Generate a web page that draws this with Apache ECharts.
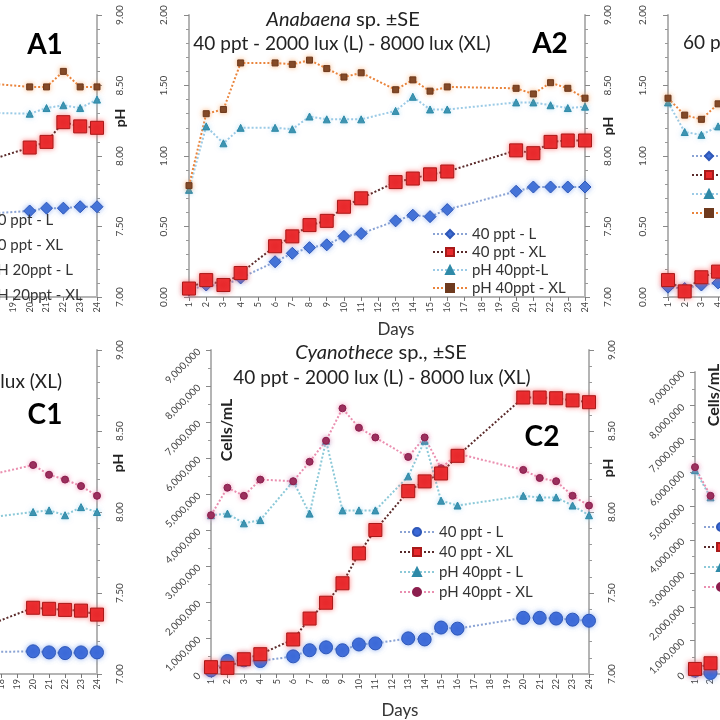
<!DOCTYPE html>
<html>
<head>
<meta charset="utf-8">
<script src="https://cdn.jsdelivr.net/npm/echarts@6/dist/echarts.min.js"></script>
<style>
html,body{margin:0;padding:0;width:720px;height:720px;overflow:hidden;background:#fff}
#chart{position:absolute;left:-320px;top:0;width:1400px;height:720px}
</style>
</head>
<body>
<div id="chart"></div>
<script>
// days on every x axis
var days = ['1','2','3','4','5','6','7','8','9','10','11','12','13','14','15','16','17','18','19','20','21','22','23','24'];

// Anabaena, 20 ppt (A1) - only the right end shows
var a1L    = [null,null,null,null,null,null,null,null,null,null,null,null,null,null,null,0.58,null,null,null,0.61,0.63,0.63,0.64,0.64];
var a1XL   = [null,null,null,null,null,null,null,null,null,null,null,null,null,null,null,0.91,null,null,null,1.06,1.10,1.24,1.21,1.20];
var a1pHL  = [null,null,null,null,null,null,null,null,null,null,null,null,null,null,null,8.31,null,null,null,8.30,8.34,8.36,8.34,8.40];
var a1pHXL = [null,null,null,null,null,null,null,null,null,null,null,null,null,null,null,8.53,null,null,null,8.49,8.49,8.60,8.49,8.49];

// Anabaena, 40 ppt (A2)
var a2L    = [0.05,0.085,0.08,0.135,null,0.25,0.31,0.35,0.37,0.43,0.45,null,0.54,0.58,0.57,0.62,null,null,null,0.75,0.78,0.78,0.78,0.78];
var a2XL   = [0.06,0.12,0.085,0.17,null,0.36,0.43,0.51,0.54,0.64,0.70,null,0.815,0.84,0.87,0.89,null,null,null,1.04,1.02,1.10,1.11,1.11];
var a2pHL  = [7.76,8.21,8.09,8.20,null,8.20,8.19,8.28,8.26,8.26,8.26,null,8.32,8.42,8.33,8.33,null,null,null,8.38,8.38,8.36,8.34,8.35];
var a2pHXL = [7.79,8.30,8.33,8.66,null,8.66,8.65,8.68,8.62,8.56,8.59,null,8.47,8.54,8.46,8.49,null,null,null,8.48,8.44,8.52,8.48,8.41];

// Anabaena, 60 ppt (A3) - only the first days show
var a3L    = [0.07,0.06,0.085,0.10,null,null,null,null,null,null,null,null,null,null,null,null,null,null,null,null,null,null,null,null];
var a3XL   = [0.12,0.04,0.14,0.18,null,null,null,null,null,null,null,null,null,null,null,null,null,null,null,null,null,null,null,null];
var a3pHL  = [8.38,8.17,8.15,8.21,null,null,null,null,null,null,null,null,null,null,null,null,null,null,null,null,null,null,null,null];
var a3pHXL = [8.41,8.29,8.26,8.37,null,null,null,null,null,null,null,null,null,null,null,null,null,null,null,null,null,null,null,null];

// Cyanothece, 20 ppt (C1)
var c1L    = [null,null,null,null,null,null,null,null,null,null,null,null,null,null,null,600000,null,null,null,630000,600000,580000,600000,600000];
var c1XL   = [null,null,null,null,null,null,null,null,null,null,null,null,null,null,null,1150000,null,null,null,1840000,1810000,1780000,1760000,1650000];
var c1pHL  = [null,null,null,null,null,null,null,null,null,null,null,null,null,null,null,7.95,null,null,null,8.00,8.01,7.98,8.03,8.00];
var c1pHXL = [null,null,null,null,null,null,null,null,null,null,null,null,null,null,null,8.20,null,null,null,8.29,8.23,8.20,8.16,8.10];

// Cyanothece, 40 ppt (C2)
var c2L    = [100000,360000,380000,360000,null,490000,660000,740000,660000,820000,850000,null,990000,960000,1290000,1260000,null,null,null,1560000,1560000,1540000,1510000,1480000];
var c2XL   = [190000,170000,410000,550000,null,960000,1540000,1980000,2520000,3350000,4000000,null,5080000,5350000,5570000,6060000,null,null,null,7680000,7680000,7660000,7600000,7550000];
var c2pHL  = [7.98,7.99,7.93,7.95,null,8.19,7.99,8.44,8.01,8.01,8.01,null,8.22,8.44,8.07,8.04,null,null,null,8.10,8.09,8.09,8.04,7.98];
var c2pHXL = [7.98,8.15,8.10,8.20,null,8.19,8.31,8.44,8.64,8.52,8.46,null,8.34,8.46,8.27,8.36,null,null,null,8.26,8.21,8.19,8.10,8.04];

// Cyanothece, 60 ppt (C3)
var c3L    = [100000,30000,null,null,null,null,null,null,null,null,null,null,null,null,null,null,null,null,null,null,null,null,null,null];
var c3XL   = [150000,320000,null,null,null,null,null,null,null,null,null,null,null,null,null,null,null,null,null,null,null,null,null,null];
var c3pHL  = [8.35,8.17,null,null,null,null,null,null,null,null,null,null,null,null,null,null,null,null,null,null,null,null,null,null];
var c3pHXL = [8.37,8.18,null,null,null,null,null,null,null,null,null,null,null,null,null,null,null,null,null,null,null,null,null,null];

var OFF = 320;   // the canvas is wider than the window, shifted left
var FONT = 'Lato';

var panels = [
    {id:'A1', kind:'A', left:-299, top:15, width:396, height:282, data:[a1L,a1XL,a1pHL,a1pHXL],
     labels:['20 ppt - L','20 ppt - XL','pH 20ppt - L','pH 20ppt - XL'], legend:{left:-56, top:207, gap:9}},
    {id:'A2', kind:'A', left:189, top:15, width:396, height:282, data:[a2L,a2XL,a2pHL,a2pHXL],
     labels:['40 ppt - L','40 ppt - XL','pH 40ppt-L','pH 40ppt - XL'], legend:{left:427, top:221, gap:2}},
    {id:'A3', kind:'A', left:668, top:15, width:396, height:282, data:[a3L,a3XL,a3pHL,a3pHXL],
     labels:['60 ppt - L','60 ppt - XL','pH 60ppt - L','pH 60ppt - XL'], legend:{left:686, top:143, gap:3}},
    {id:'C1', kind:'C', left:-281, top:350, width:378, height:328, data:[c1L,c1XL,c1pHL,c1pHXL],
     labels:null},
    {id:'C2', kind:'C', left:211, top:350, width:378, height:328, data:[c2L,c2XL,c2pHL,c2pHXL],
     labels:['40 ppt - L','40 ppt - XL','pH 40ppt - L','pH 40ppt - XL'], legend:{left:394, top:519, gap:4}},
    {id:'C3', kind:'C', left:695, top:372, width:378, height:306, data:[c3L,c3XL,c3pHL,c3pHXL],
     labels:['60 ppt - L','60 ppt - XL','pH 60ppt - L','pH 60ppt - XL'], legend:{left:698, top:514, gap:4}}
];

var styles = {
    A: [
        {sym:'diamond', size:12, color:'#3f6fd6', border:'#2f58b8', line:'#8aa3d4', glow:'rgba(120,160,240,0.7)'},
        {sym:'rect', size:13, color:'#e8292c', border:'#a81a1a', line:'#5a2a2a', glow:'rgba(255,90,90,0.7)'},
        {sym:'triangle', size:7, color:'#2f8aa8', border:'#2f8aa8', line:'#9ccbe6', glow:'rgba(150,210,240,0.6)'},
        {sym:'rect', size:6, color:'#6e3a1e', border:'#6e3a1e', line:'#e9843c', glow:'rgba(250,160,90,0.7)'}
    ],
    C: [
        {sym:'circle', size:13, color:'#3b69d8', border:'#2f58b8', line:'#8aa3d4', glow:'rgba(120,160,240,0.7)'},
        {sym:'rect', size:13, color:'#e8292c', border:'#a81a1a', line:'#5a2a2a', glow:'rgba(255,90,90,0.7)'},
        {sym:'triangle', size:7, color:'#2f8aa8', border:'#2f8aa8', line:'#8cc9d8', glow:'rgba(150,210,240,0.6)'},
        {sym:'circle', size:7, color:'#8c1f4e', border:'#8c1f4e', line:'#ea8fb0', glow:'rgba(240,140,180,0.8)'}
    ]
};

var axisGray = '#b4b4b4';
var grids = [], xAxes = [], yAxes = [], series = [], legends = [];

panels.forEach(function (p, i) {
    grids.push({left:p.left + OFF, top:p.top, width:p.width, height:p.height, containLabel:false});
    xAxes.push({
        type:'category', gridIndex:i, data:days, boundaryGap:false,
        name:'Days', nameLocation:'middle', nameGap:p.kind === 'A' ? 24 : 28,
        nameTextStyle:{fontSize:17, color:'#333', fontFamily:FONT, padding:p.kind === 'A' ? [0,0,0,18] : 0},
        axisLine:{lineStyle:{color:axisGray, width:2}},
        axisTick:{show:true, length:4, interval:0, lineStyle:{color:'#777'}},
        axisLabel:{rotate:90, fontSize:9, color:'#444', interval:0, margin:5, fontFamily:FONT},
        splitLine:{show:false}
    });
    var leftAxis = {
        type:'value', gridIndex:i, position:'left',
        axisLine:{show:true, lineStyle:{color:axisGray, width:2}},
        axisTick:{show:true, length:5, lineStyle:{color:'#888'}},
        minorTick:{show:true, length:3, lineStyle:{color:'#999'}},
        splitLine:{show:false},
        axisLabel:{fontSize:10, color:'#444', fontFamily:FONT}
    };
    if (p.kind === 'A') {
        leftAxis.min = 0; leftAxis.max = 2; leftAxis.interval = 0.5;
        leftAxis.minorTick.splitNumber = 5;
        leftAxis.axisLabel.rotate = 90;
        leftAxis.axisLabel.margin = 20;
        leftAxis.axisLabel.formatter = function (v) { return v.toFixed(2); };
    } else {
        leftAxis.min = 0; leftAxis.max = 9000000; leftAxis.interval = 1000000;
        leftAxis.minorTick.splitNumber = 2;
        leftAxis.axisLabel.rotate = 45;
        leftAxis.axisLabel.margin = 12;
        leftAxis.axisLabel.formatter = function (v) { return v.toLocaleString('en-US'); };
    }
    yAxes.push(leftAxis);
    yAxes.push({
        type:'value', gridIndex:i, position:'right', min:7, max:9, interval:0.5,
        axisLine:{show:true, lineStyle:{color:axisGray, width:2}},
        axisTick:{show:true, length:5, lineStyle:{color:'#888'}},
        minorTick:{show:true, splitNumber:5, length:3, lineStyle:{color:'#999'}},
        splitLine:{show:false},
        axisLabel:{rotate:90, fontSize:10, color:'#444', margin:18, fontFamily:FONT,
            formatter:function (v) { return v.toFixed(2); }}
    });
    var names = [];
    p.data.forEach(function (d, k) {
        var st = styles[p.kind][k];
        var nm = p.id + '|' + (p.labels ? p.labels[k] : 'series ' + k);
        names.push(nm);
        series.push({
            type:'line', name:nm, data:d,
            xAxisIndex:i, yAxisIndex:2 * i + (k < 2 ? 0 : 1),
            connectNulls:true, showAllSymbol:true,
            symbol:st.sym, symbolSize:st.size,
            itemStyle:{color:st.color, borderColor:st.border, borderWidth:1, shadowBlur:5, shadowColor:st.glow},
            lineStyle:{color:st.line, width:2, type:'dotted'},
            z:k < 2 ? 3 : 2,
            emphasis:{disabled:true}
        });
    });
    if (p.labels) {
        legends.push({
            data:names, orient:'vertical', left:p.legend.left + OFF, top:p.legend.top,
            itemWidth:34, itemHeight:10, itemGap:p.legend.gap,
            textStyle:{fontSize:15, lineHeight:16, color:'#333', fontFamily:FONT},
            formatter:function (n) { return n.split('|')[1]; },
            selectedMode:false
        });
    }
});

function label(txt, x, y, opt) {
    opt = opt || {};
    return {
        type:'text', x:x + OFF, y:y, rotation:opt.rot || 0, silent:true,
        style:{
            text:txt, fill:opt.color || '#222',
            font:(opt.weight || 'normal') + ' ' + (opt.size || 16) + 'px ' + FONT,
            textAlign:opt.align || 'center', textVerticalAlign:'middle',
            rich:{i:{fontStyle:'italic', fontSize:opt.size || 16, fontFamily:FONT, fill:'#222'}}
        }
    };
}

var graphics = [
    label('{i|Anabaena} sp. ±SE', 343, 20, {size:20}),
    label('40 ppt - 2000 lux (L) - 8000 lux (XL)', 342, 44, {size:19}),
    label('A2', 550, 44, {size:28, weight:'bold', color:'#000'}),
    label('A1', 45, 45, {size:28, weight:'bold', color:'#000'}),
    label('60 ppt - 2000 lux (L) - 8000 lux (XL)', 683, 43, {size:19, align:'left'}),
    label('pH', 120, 118, {size:14, weight:'bold', rot:Math.PI / 2}),
    label('pH', 608, 126, {size:14, weight:'bold', rot:Math.PI / 2}),
    label('{i|Cyanothece} sp., ±SE', 381, 353, {size:20}),
    label('40 ppt - 2000 lux (L) - 8000 lux (XL)', 382, 378, {size:19}),
    label('C2', 542, 437, {size:28, weight:'bold', color:'#000'}),
    label('lux (XL)', 62, 382, {size:19, align:'right'}),
    label('C1', 45, 415, {size:28, weight:'bold', color:'#000'}),
    label('pH', 118, 463, {size:14, weight:'bold', rot:Math.PI / 2}),
    label('pH', 608, 468, {size:14, weight:'bold', rot:Math.PI / 2}),
    label('Cells/mL', 227, 430, {size:16, weight:'bold', rot:Math.PI / 2}),
    label('Cells/mL', 714, 395, {size:16, weight:'bold', rot:Math.PI / 2})
];

var myChart = echarts.init(document.getElementById('chart'));
myChart.setOption({
    animation:false,
    backgroundColor:'#fff',
    textStyle:{fontFamily:FONT},
    grid:grids,
    xAxis:xAxes,
    yAxis:yAxes,
    legend:legends,
    series:series,
    graphic:graphics
});
</script>
</body>
</html>
